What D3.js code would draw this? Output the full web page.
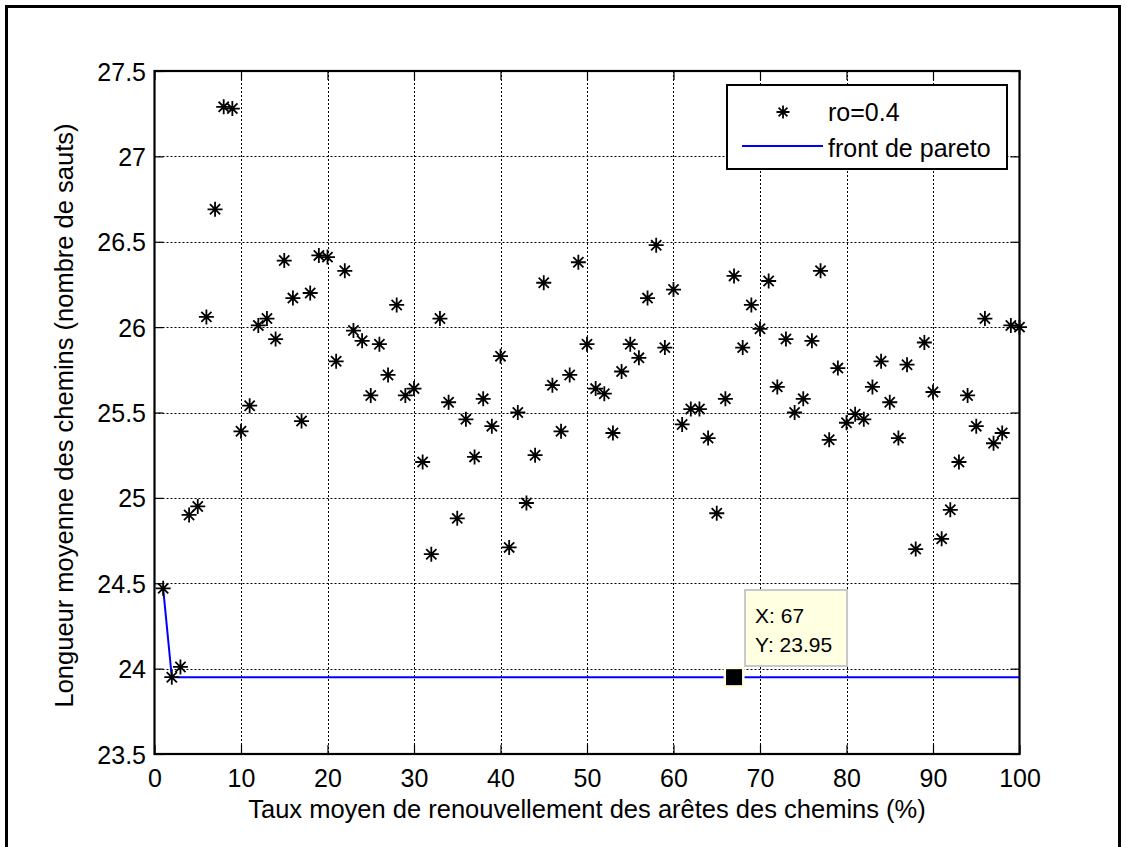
<!DOCTYPE html>
<html>
<head>
<meta charset="utf-8">
<script src="https://cdn.jsdelivr.net/npm/d3@7"></script>
<style>
  html, body { margin: 0; padding: 0; background: #fff; }
  svg { display: block; }
  text { font-family: "Liberation Sans", Arial, Helvetica, sans-serif; fill: #000; }
</style>
</head>
<body>
<script>
// Renewal rate of path edges (%) for each run
const renewalRate = [
  1, 2, 3, 4, 5, 6, 7, 8, 9, 10,
  11, 12, 13, 14, 15, 16, 17, 18, 19, 20,
  21, 22, 23, 24, 25, 26, 27, 28, 29, 30,
  31, 32, 33, 34, 35, 36, 37, 38, 39, 40,
  41, 42, 43, 44, 45, 46, 47, 48, 49, 50,
  51, 52, 53, 54, 55, 56, 57, 58, 59, 60,
  61, 62, 63, 64, 65, 66, 67, 68, 69, 70,
  71, 72, 73, 74, 75, 76, 77, 78, 79, 80,
  81, 82, 83, 84, 85, 86, 87, 88, 89, 90,
  91, 92, 93, 94, 95, 96, 97, 98, 99, 100
];
// Mean path length (hops) for ro = 0.4
const meanLength = [
  24.47, 23.95, 24.01, 24.90, 24.95, 26.06, 26.69, 27.29, 27.28, 25.39,
  25.54, 26.01, 26.05, 25.93, 26.39, 26.17, 25.45, 26.20, 26.42, 26.41,
  25.80, 26.33, 25.98, 25.92, 25.60, 25.90, 25.72, 26.13, 25.60, 25.64,
  25.21, 24.67, 26.05, 25.56, 24.88, 25.46, 25.24, 25.58, 25.42, 25.83,
  24.71, 25.50, 24.97, 25.25, 26.26, 25.66, 25.39, 25.72, 26.38, 25.90,
  25.64, 25.61, 25.38, 25.74, 25.90, 25.82, 26.17, 26.48, 25.88, 26.22,
  25.43, 25.52, 25.52, 25.35, 24.91, 25.58, 26.30, 25.88, 26.13, 25.99,
  26.27, 25.65, 25.93, 25.50, 25.58, 25.92, 26.33, 25.34, 25.76, 25.44,
  25.49, 25.46, 25.65, 25.80, 25.56, 25.35, 25.78, 24.70, 25.91, 25.62,
  24.76, 24.93, 25.21, 25.60, 25.42, 26.05, 25.32, 25.38, 26.01, 26.00
];
// Pareto front
const paretoX = [1, 2, 100];
const paretoY = [24.47, 23.95, 23.95];
// Data cursor
const tipX = 67;
const tipY = 23.95;
// Axis ticks
const xTicks = [0, 10, 20, 30, 40, 50, 60, 70, 80, 90, 100];
const yTicks = [23.5, 24, 24.5, 25, 25.5, 26, 26.5, 27, 27.5];
const yTickLabels = ["23.5", "24", "24.5", "25", "25.5", "26", "26.5", "27", "27.5"];
const legendLabels = ["ro=0.4", "front de pareto"];

const W = 1126, H = 847;
const plotL = 154.5, plotR = 1019.5, plotT = 71, plotB = 754;

const svg = d3.select("body").append("svg").attr("width", W).attr("height", H);

// Figure frame
svg.append("rect").attr("x", 6.5).attr("y", 6.5).attr("width", W - 13).attr("height", H + 40)
  .attr("fill", "#fff").attr("stroke", "#000").attr("stroke-width", 3);

const x = d3.scaleLinear().domain([0, 100]).range([plotL, plotR]);
const y = d3.scaleLinear().domain([23.5, 27.5]).range([plotB, plotT]);

// Grid
const grid = svg.append("g").attr("stroke", "#000").attr("stroke-width", 1)
  .attr("stroke-dasharray", "2,2").attr("fill", "none");
grid.selectAll("line.gx").data(xTicks.slice(1, -1)).join("line")
  .attr("x1", d => Math.round(x(d)) + 0.5).attr("x2", d => Math.round(x(d)) + 0.5)
  .attr("y1", plotT).attr("y2", plotB);
grid.selectAll("line.gy").data(yTicks.slice(1, -1)).join("line")
  .attr("y1", d => Math.round(y(d)) + 0.5).attr("y2", d => Math.round(y(d)) + 0.5)
  .attr("x1", plotL).attr("x2", plotR);

// Axes with inward ticks
const tickFont = 25;
const axB = svg.append("g").attr("transform", `translate(0,${plotB})`)
  .call(d3.axisBottom(x).tickValues(xTicks).tickSizeInner(-9).tickSizeOuter(0).tickPadding(0));
axB.selectAll("text").attr("y", 32.5).attr("dy", null)
  .style("font-size", tickFont + "px").style("font-family", "Liberation Sans, Arial, sans-serif");
const axT = svg.append("g").attr("transform", `translate(0,${plotT})`)
  .call(d3.axisTop(x).tickValues(xTicks).tickSizeInner(-9).tickSizeOuter(0).tickFormat(""));
const axL = svg.append("g").attr("transform", `translate(${plotL},0)`)
  .call(d3.axisLeft(y).tickValues(yTicks).tickSizeInner(-9).tickSizeOuter(0)
    .tickFormat((d, i) => yTickLabels[i]));
axL.selectAll("text").attr("x", -8.5).attr("dy", "0.36em")
  .style("font-size", tickFont + "px").style("font-family", "Liberation Sans, Arial, sans-serif");
const axR = svg.append("g").attr("transform", `translate(${plotR},0)`)
  .call(d3.axisRight(y).tickValues(yTicks).tickSizeInner(-9).tickSizeOuter(0).tickFormat(""));
[axB, axT, axL, axR].forEach(a => {
  a.select(".domain").remove();
  a.selectAll(".tick line").attr("stroke", "#000").attr("stroke-width", 1.2);
});

// Axes box
svg.append("rect").attr("x", plotL).attr("y", plotT).attr("width", plotR - plotL).attr("height", plotB - plotT)
  .attr("fill", "none").attr("stroke", "#000").attr("stroke-width", 2.2);

// Asterisk marker path
function starPath(cx, cy, r) {
  const p = d3.path();
  const d = r * 0.68;
  p.moveTo(cx - r, cy); p.lineTo(cx + r, cy);
  p.moveTo(cx, cy - r); p.lineTo(cx, cy + r);
  p.moveTo(cx - d, cy - d); p.lineTo(cx + d, cy + d);
  p.moveTo(cx - d, cy + d); p.lineTo(cx + d, cy - d);
  return p.toString();
}

// Pareto front
const line = d3.line().x(d => x(d[0])).y(d => y(d[1]));
svg.append("path").datum(paretoX.map((v, i) => [v, paretoY[i]]))
  .attr("d", line).attr("fill", "none").attr("stroke", "#0000ff").attr("stroke-width", 2);

// Scatter points
svg.append("g").selectAll("path").data(renewalRate).join("path")
  .attr("d", (d, i) => starPath(x(d), y(meanLength[i]), 7.5))
  .attr("fill", "none").attr("stroke", "#000").attr("stroke-width", 1.8);

// Legend
const lg = svg.append("g");
lg.append("rect").attr("x", 727).attr("y", 85).attr("width", 280).attr("height", 84)
  .attr("fill", "#fff").attr("stroke", "#000").attr("stroke-width", 2);
lg.append("path").attr("d", starPath(783, 112, 6.5)).attr("fill", "none")
  .attr("stroke", "#000").attr("stroke-width", 1.8);
lg.append("line").attr("x1", 742).attr("x2", 823).attr("y1", 146).attr("y2", 146)
  .attr("stroke", "#0000ff").attr("stroke-width", 2);
lg.append("text").attr("x", 828).attr("y", 121).style("font-size", "25px").text(legendLabels[0]);
lg.append("text").attr("x", 828).attr("y", 157).style("font-size", "25px").text(legendLabels[1]);

// Data cursor
const tx = x(tipX), ty = y(tipY);
svg.append("rect").attr("x", tx - 10.5).attr("y", ty - 10.5).attr("width", 21).attr("height", 21)
  .attr("fill", "#ffffe1");
svg.append("rect").attr("x", tx - 8).attr("y", ty - 8).attr("width", 16).attr("height", 16)
  .attr("fill", "#000");
const tip = svg.append("g");
tip.append("rect").attr("x", tx + 11).attr("y", 590).attr("width", 102).attr("height", 76)
  .attr("fill", "#ffffe1").attr("stroke", "#c8c8c8").attr("stroke-width", 2);
tip.append("text").attr("x", tx + 21).attr("y", 623).style("font-size", "21px").text("X: " + tipX);
tip.append("text").attr("x", tx + 21).attr("y", 652).style("font-size", "21px").text("Y: " + tipY);

// Axis titles
svg.append("text").attr("x", (plotL + plotR) / 2).attr("y", 818).attr("text-anchor", "middle")
  .style("font-size", "25.5px").text("Taux moyen de renouvellement des arêtes des chemins (%)");
svg.append("text").attr("transform", `translate(73,${(plotT + plotB) / 2 + 3}) rotate(-90)`)
  .attr("text-anchor", "middle").style("font-size", "25.5px")
  .text("Longueur moyenne des chemins (nombre de sauts)");
</script>
</body>
</html>
